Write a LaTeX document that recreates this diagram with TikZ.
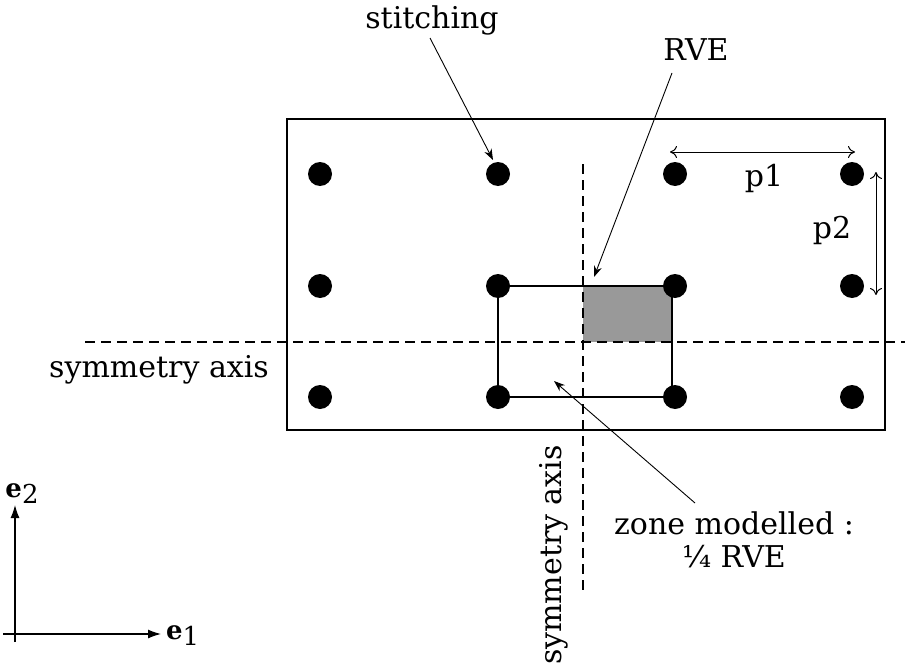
\documentclass[tikz,border=0pt]{standalone}
\usepackage{fontspec}
\setmainfont{DejaVu Serif}
\usetikzlibrary{arrows.meta}
\begin{document}
\begin{tikzpicture}[x=1pt,y=-1pt,
  lbl/.style={font=\fontsize{30}{33}\selectfont, inner sep=0pt},
  vec/.style={font=\fontsize{26}{30}\selectfont, inner sep=0pt},
  dot/.style={circle, fill=black, minimum size=24pt, inner sep=0pt},
  lead/.style={line width=0.9pt, -{Stealth[length=11pt,width=8pt]}},
  dim/.style={line width=1pt, {To[length=7pt,width=12pt]}-{To[length=7pt,width=12pt]}},
  axisdash/.style={line width=2pt, dash pattern=on 10pt off 6pt},
  baseax/.style={line width=1.2pt, -{Latex[length=13pt,width=9pt]}}]
\useasboundingbox (0,0) rectangle (905,669);
% plate
\draw[line width=1.3pt] (287,119) rectangle (885,430);
% shaded quarter
\fill[black!40] (583,286) rectangle (672,342);
% dots
\foreach \c/\x in {1/320,2/498,3/675,4/852}{
  \foreach \r/\y in {1/174,2/286,3/397}{
    \node[dot] (d\c\r) at (\x,\y) {};
  }
}
% RVE rectangle
\draw[line width=2.6pt] (d22.center) -- (672,286) -- (672,397) -- (d23.center) -- cycle;
% symmetry axes
\coordinate (vt) at (583,164);
\coordinate (vb) at (583,590);
\coordinate (hl) at (85,342);
\coordinate (hr) at (905,342);
\draw[axisdash] (vt) -- (vb);
\draw[axisdash] (hl) -- (hr);
% labels
\node[lbl] (stitch) at (432,20) {stitching};
\node[lbl] (rve) at (696,50) {RVE};
\node[lbl] (p1) at (764,178) {p1};
\node[lbl] (p2) at (832,230) {p2};
\node[lbl] (symh) at (159,370) {symmetry axis};
\node[lbl, rotate=90] (symv) at (554,555) {symmetry axis};
\node[lbl, align=center] (zone) at (734,540) {zone modelled :\\¼ RVE};
% leader arrows
\coordinate (stitchtip) at (493,160);
\coordinate (rvetip) at (594,277);
\coordinate (zonetip) at (554,381);
\draw[lead] (430,38) -- (stitchtip);
\draw[lead] (672,73) -- (rvetip);
\draw[lead] (695,503) -- (zonetip);
% dimensions
\coordinate (p1a) at (670,152);
\coordinate (p1b) at (855,152);
\coordinate (p2a) at (876,172);
\coordinate (p2b) at (876,295);
\draw[dim] (p1a) -- (p1b);
\draw[dim] (p2a) -- (p2b);
% base vectors
\coordinate (o1) at (3,634);
\coordinate (o2) at (15,642);
\coordinate (e1tip) at (161,634);
\coordinate (e2tip) at (15,505);
\draw[baseax] (o1) -- (e1tip);
\draw[baseax] (o2) -- (e2tip);
\node[vec, anchor=west] (e1) at (166,636) {\textbf{e}\raisebox{-6pt}{1}};
\node[vec] (e2) at (22,494) {\textbf{e}\raisebox{-6pt}{2}};
\end{tikzpicture}
\end{document}
